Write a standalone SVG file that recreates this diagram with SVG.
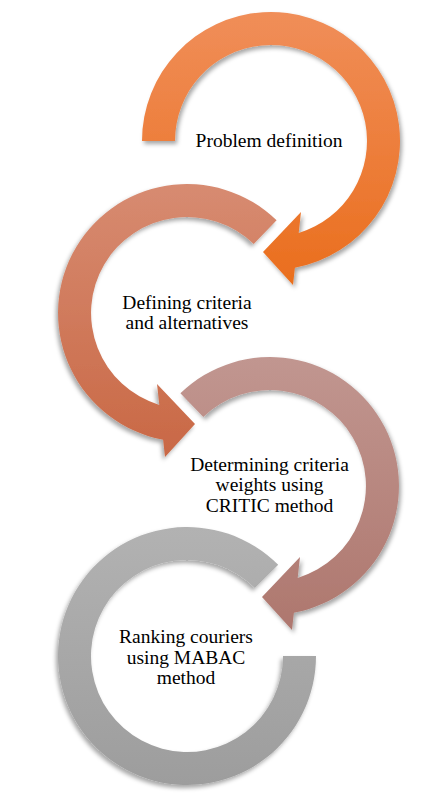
<svg xmlns="http://www.w3.org/2000/svg" width="443" height="805" viewBox="0 0 443 805">
  <style>
    .lbl { font-family: "Liberation Serif", "Times New Roman", serif; font-size: 19.5px; fill: #000; text-anchor: middle; }
    .shape { filter: url(#sh); }
  </style>
  <defs>
    <filter id="sh" x="-20%" y="-20%" width="140%" height="140%">
      <feDropShadow dx="2" dy="3" stdDeviation="2.2" flood-color="#000" flood-opacity="0.35"/>
    </filter>
    <linearGradient id="g1" x1="0" y1="0" x2="0" y2="1">
      <stop offset="0" stop-color="#F08E59"/>
      <stop offset="1" stop-color="#EA6E1D"/>
    </linearGradient>
    <linearGradient id="g2" x1="0" y1="0" x2="0" y2="1">
      <stop offset="0" stop-color="#D78B71"/>
      <stop offset="1" stop-color="#C96845"/>
    </linearGradient>
    <linearGradient id="g3" x1="0" y1="0" x2="0" y2="1">
      <stop offset="0" stop-color="#C19690"/>
      <stop offset="1" stop-color="#AE776E"/>
    </linearGradient>
    <linearGradient id="g4" x1="0" y1="0" x2="0" y2="1">
      <stop offset="0" stop-color="#B2B2B2"/>
      <stop offset="1" stop-color="#9D9D9D"/>
    </linearGradient>
    <path id="arrowA" d="M -129 0 A 129 129 0 1 1 23.9 126.8 L 22 144 L -8 111 L 30 71 L 27.7 91.9 A 96 96 0 1 0 -96 0 Z"/>
    <path id="arrowB" d="M -89.6 -92.8 A 129 129 0 1 1 23.9 126.8 L 22 144 L -8 111 L 30 71 L 27.7 91.9 A 96 96 0 1 0 -66.7 -69.1 Z"/>
    <path id="ringEnd" d="M -91.2 -91.2 A 129 129 0 1 1 -129 0 L -96 0 A 96 96 0 1 0 -67.9 -67.9 Z"/>
  </defs>

  <g id="step4">
    <use href="#ringEnd" class="shape" fill="url(#g4)" transform="translate(187,656) scale(-1,1)"/>
    <text class="lbl" x="186" y="643">Ranking couriers</text>
    <text class="lbl" x="186" y="663.5">using MABAC</text>
    <text class="lbl" x="186" y="684">method</text>
  </g>

  <g id="step3">
    <use href="#arrowB" class="shape" fill="url(#g3)" transform="translate(270,486)"/>
    <text class="lbl" x="269.5" y="471">Determining criteria</text>
    <text class="lbl" x="269.5" y="491">weights using</text>
    <text class="lbl" x="269.5" y="511.5">CRITIC method</text>
  </g>

  <g id="step2">
    <use href="#arrowB" class="shape" fill="url(#g2)" transform="translate(187,313) scale(-1,1)"/>
    <text class="lbl" x="187" y="309">Defining criteria</text>
    <text class="lbl" x="187" y="329">and alternatives</text>
  </g>

  <g id="step1">
    <use href="#arrowA" class="shape" fill="url(#g1)" transform="translate(271,141)"/>
    <text class="lbl" x="269" y="147">Problem definition</text>
  </g>

  <g id="connectors"/>
</svg>
